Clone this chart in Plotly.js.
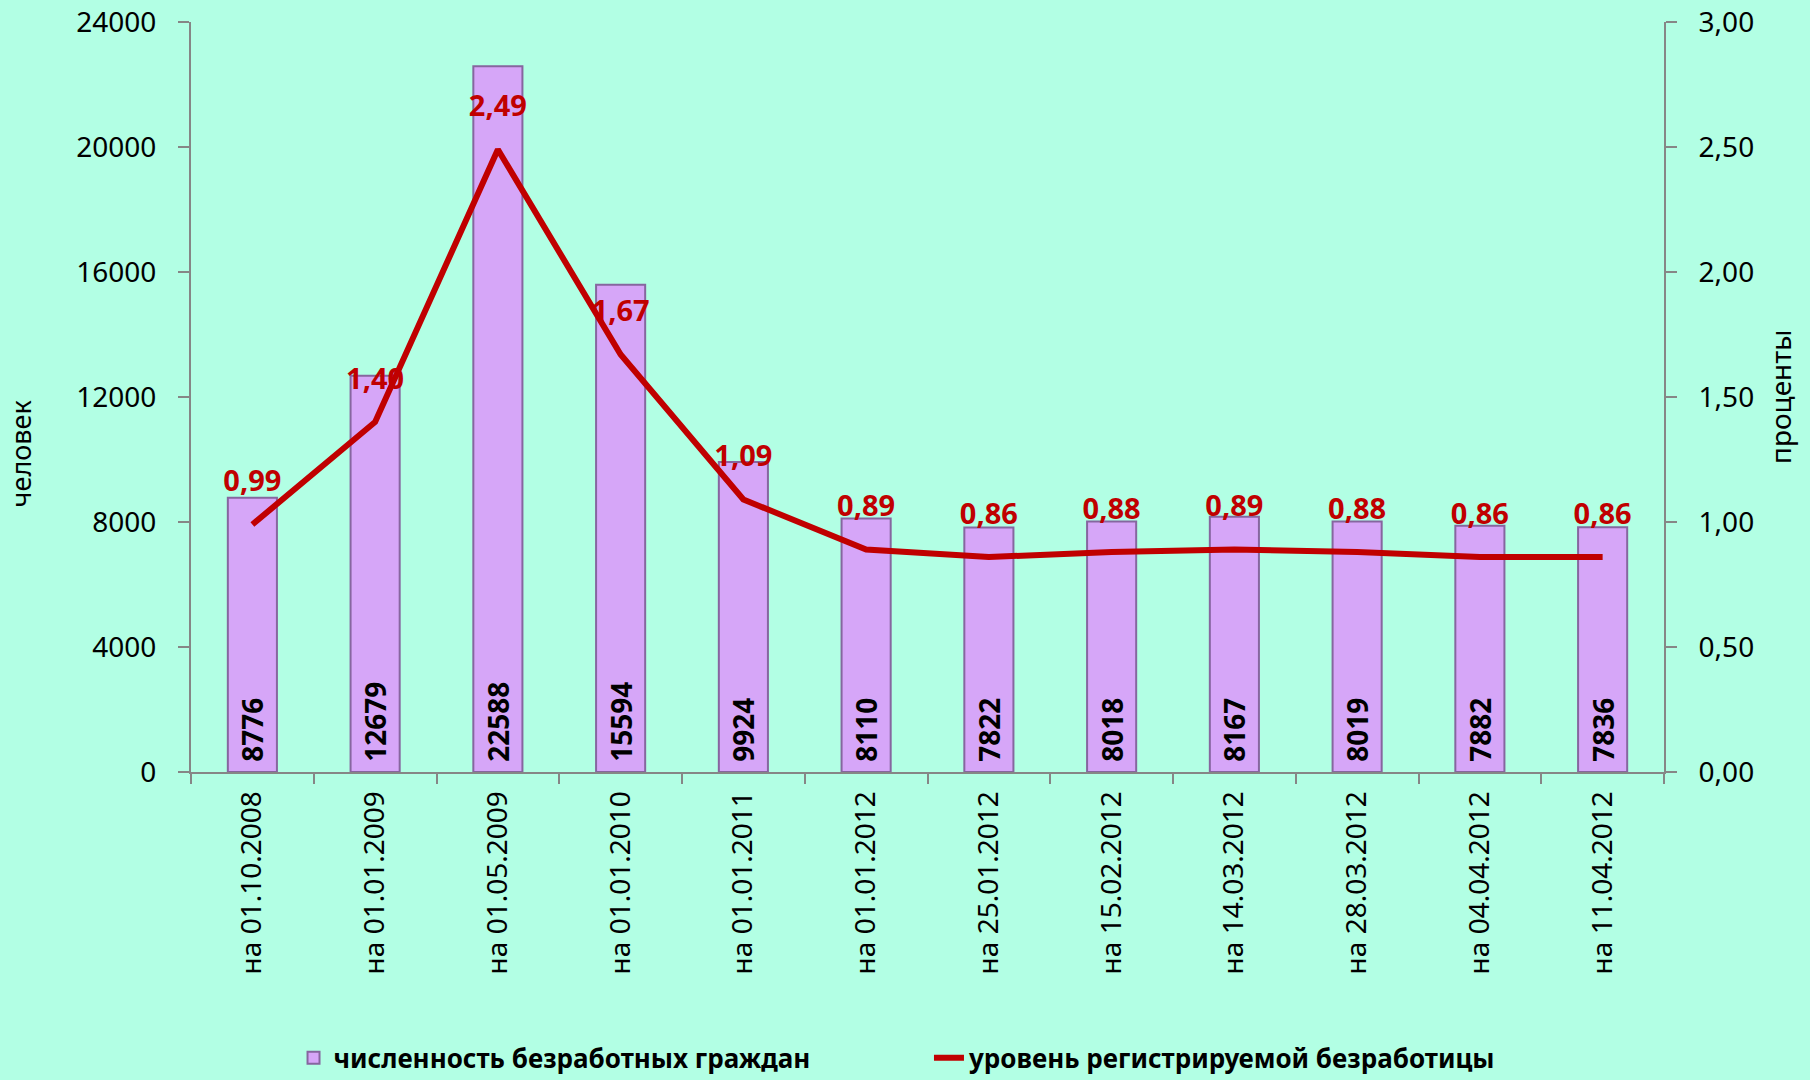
<!DOCTYPE html>
<html>
<head>
<meta charset="utf-8">
<script src="https://cdn.plot.ly/plotly-3.0.1.min.js"></script>
<style>html,body{margin:0;padding:0;background:#B2FFE4;}#chart{width:1810px;height:1080px;}</style>
</head>
<body>
<div id="chart"></div>
<script>
const categories = ['на 01.10.2008','на 01.01.2009','на 01.05.2009','на 01.01.2010','на 01.01.2011','на 01.01.2012','на 25.01.2012','на 15.02.2012','на 14.03.2012','на 28.03.2012','на 04.04.2012','на 11.04.2012'];
const unemployedCount = [8776,12679,22588,15594,9924,8110,7822,8018,8167,8019,7882,7836];
const unemploymentRate = [0.99,1.40,2.49,1.67,1.09,0.89,0.86,0.88,0.89,0.88,0.86,0.86];
const seriesNames = ['численность безработных граждан','уровень регистрируемой безработицы'];
const leftTitle = 'человек';
const rightTitle = 'проценты';

const FONT = 'Noto Sans, DejaVu Sans, sans-serif';

const barTrace = {
  type: 'bar',
  x: categories,
  y: unemployedCount,
  name: seriesNames[0],
  marker: {color: '#D6A6F8', line: {color: '#86669F', width: 2}},
  texttemplate: '\u00a0%{y:d}',
  textposition: 'inside',
  insidetextanchor: 'start',
  textangle: -90,
  constraintext: 'none',
  textfont: {family: FONT, size: 28, color: '#000000', weight: 'bold'},
  legend: 'legend',
  hoverinfo: 'skip'
};

const lineTrace = {
  type: 'scatter',
  mode: 'lines+markers+text',
  x: categories,
  y: unemploymentRate,
  yaxis: 'y2',
  name: seriesNames[1],
  line: {color: '#C00000', width: 6},
  marker: {size: 40, color: 'rgba(0,0,0,0)'},
  texttemplate: '%{y:.2f}',
  textposition: 'top center',
  textfont: {family: FONT, size: 29, color: '#C00000', weight: 'bold'},
  legend: 'legend2',
  hoverinfo: 'skip'
};

const layout = {
  width: 1810, height: 1080,
  paper_bgcolor: '#B2FFE4',
  plot_bgcolor: '#B2FFE4',
  separators: ', ',
  font: {family: FONT, color: '#000000'},
  margin: {l: 191, r: 146, t: 22, b: 308, autoexpand: false},
  bargap: 0.6,
  showlegend: true,
  xaxis: {
    type: 'category',
    range: [-0.5, categories.length - 0.5],
    autorange: false,
    automargin: false,
    showline: true, linecolor: '#868686', linewidth: 2,
    ticks: 'outside', tickson: 'boundaries', ticklen: 10, tickcolor: '#868686', tickwidth: 2,
    tickangle: -90,
    tickfont: {family: FONT, size: 28, color: '#000000'},
    ticklabelstandoff: 6,
    showgrid: false, zeroline: false
  },
  yaxis: {
    range: [0, 24000], dtick: 4000, tick0: 0,
    autorange: false, automargin: false,
    tickformat: 'd',
    showline: true, linecolor: '#868686', linewidth: 2,
    ticks: 'outside', ticklen: 11, tickcolor: '#868686', tickwidth: 2,
    tickfont: {family: FONT, size: 28, color: '#000000'},
    ticklabelstandoff: 16,
    showgrid: false, zeroline: false
  },
  yaxis2: {
    range: [0, 3], dtick: 0.5, tick0: 0,
    autorange: false, automargin: false,
    tickformat: '.2f',
    overlaying: 'y', side: 'right',
    showline: true, linecolor: '#868686', linewidth: 2,
    ticks: 'outside', ticklen: 11, tickcolor: '#868686', tickwidth: 2,
    tickfont: {family: FONT, size: 28, color: '#000000'},
    ticklabelstandoff: 16,
    showgrid: false, zeroline: false
  },
  legend: {
    orientation: 'h', x: 0.0696, xanchor: 'left', y: -0.381, yanchor: 'middle',
    bgcolor: 'rgba(0,0,0,0)',
    font: {family: FONT, size: 26, color: '#000000', weight: 'bold'}
  },
  legend2: {
    orientation: 'h', x: 0.501, xanchor: 'left', y: -0.381, yanchor: 'middle',
    bgcolor: 'rgba(0,0,0,0)',
    font: {family: FONT, size: 26, color: '#000000', weight: 'bold'}
  },
  annotations: [
    {text: leftTitle, xref: 'paper', yref: 'paper', x: -0.116, y: 0.425, textangle: -90,
     showarrow: false, xanchor: 'center', yanchor: 'middle', font: {family: FONT, size: 27, color: '#000000'}},
    {text: rightTitle, xref: 'paper', yref: 'paper', x: 1.0788, y: 0.5, textangle: -90,
     showarrow: false, xanchor: 'center', yanchor: 'middle', font: {family: FONT, size: 28, color: '#000000'}}
  ]
};

Plotly.newPlot('chart', [barTrace, lineTrace], layout, {displayModeBar: false, staticPlot: true});
</script>
</body>
</html>
